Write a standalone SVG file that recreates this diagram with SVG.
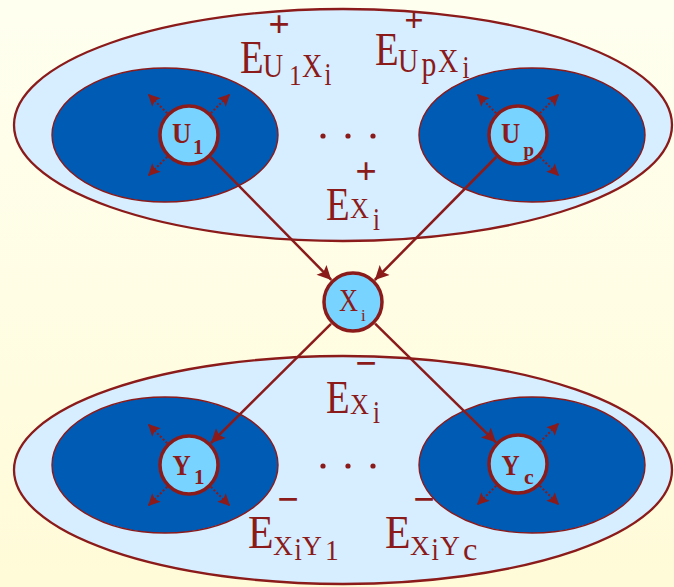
<svg xmlns="http://www.w3.org/2000/svg" width="674" height="587" viewBox="0 0 674 587">
  <defs>
    <linearGradient id="bg" x1="0" y1="0" x2="0" y2="1">
      <stop offset="0" stop-color="#FFFFF0"/>
      <stop offset="1" stop-color="#FFFBD8"/>
    </linearGradient>
    <marker id="ah" viewBox="0 0 10 10" refX="10" refY="5" markerWidth="18" markerHeight="14" markerUnits="userSpaceOnUse" orient="auto">
      <path d="M0,0 L10,5 L0,10 L2,5 z" fill="#8B1A1A"/>
    </marker>
    <marker id="sh" viewBox="0 0 10 10" refX="10" refY="5" markerWidth="13" markerHeight="12" markerUnits="userSpaceOnUse" orient="auto">
      <path d="M0,0 L10,5 L0,10 L2,5 z" fill="#8B1A1A"/>
    </marker>
    <style>
      .outer { fill: #D6EEFF; stroke: #8B1A1A; stroke-width: 2.3; }
      .inner { fill: #005BB5; stroke: #8B1A1A; stroke-width: 1.4; }
      .node { fill: #78D4FF; stroke: #8B1A1A; stroke-width: 3.5; }
      .conn { stroke: #8B1A1A; stroke-width: 2.5; fill: none; marker-end: url(#ah); }
      .dot { stroke: #8B1A1A; stroke-width: 2; stroke-dasharray: 2 2; fill: none; marker-end: url(#sh); }
      text { font-family: "Liberation Serif", "Times New Roman", serif; fill: #8B1A1A; }
      .b { font-weight: bold; }
      .sign { font-weight: bold; font-size: 38px; text-anchor: middle; }
      .ellip { fill: #8B1A1A; }
    </style>
  </defs>

  <rect x="0" y="0" width="674" height="587" fill="url(#bg)"/>

  <!-- top cluster -->
  <g id="parents-set">
    <ellipse class="outer" cx="343" cy="125" rx="329" ry="116"/>
    <ellipse class="inner" cx="165" cy="135" rx="113" ry="67"/>
    <ellipse class="inner" cx="532" cy="135" rx="113" ry="67"/>
    <circle class="ellip" cx="323" cy="136" r="2.6"/>
    <circle class="ellip" cx="348" cy="136" r="2.6"/>
    <circle class="ellip" cx="373" cy="136" r="2.6"/>
  </g>

  <!-- bottom cluster -->
  <g id="children-set">
    <ellipse class="outer" cx="343" cy="470" rx="329" ry="114"/>
    <ellipse class="inner" cx="165" cy="465" rx="113" ry="68"/>
    <ellipse class="inner" cx="532" cy="465" rx="113" ry="68"/>
    <circle class="ellip" cx="323" cy="466" r="2.6"/>
    <circle class="ellip" cx="348" cy="466" r="2.6"/>
    <circle class="ellip" cx="373" cy="466" r="2.6"/>
  </g>

  <!-- labels -->
  <g id="label-EU1Xi">
    <text class="sign" x="279" y="37">+</text>
    <text font-size="38" transform="translate(240,73) scale(1.02,1.2)">E</text>
    <text font-size="28" transform="translate(263,77) scale(1,1.2)">U</text>
    <text font-size="25" transform="translate(289,85) scale(1,1.2)">1</text>
    <text font-size="28" transform="translate(302,77) scale(1,1.2)">X</text>
    <text font-size="25" transform="translate(324.5,85) scale(1,1.25)">i</text>
  </g>
  <g id="label-EUpXi">
    <text class="sign" x="414" y="31" style="font-size:34px">+</text>
    <text font-size="38" transform="translate(375,65) scale(1.02,1.2)">E</text>
    <text font-size="28" transform="translate(398,72) scale(1,1.2)">U</text>
    <text font-size="27" transform="translate(421.5,75.5) scale(1.1,1.3)">p</text>
    <text font-size="28" transform="translate(438,72) scale(1,1.2)">X</text>
    <text font-size="25" transform="translate(462.5,78) scale(1,1.25)">i</text>
  </g>
  <g id="label-EXi-plus">
    <text class="sign" x="366" y="184">+</text>
    <text font-size="38" transform="translate(326,220) scale(1.02,1.2)">E</text>
    <text font-size="25" transform="translate(350,218) scale(1.05,1.15)">X</text>
    <text font-size="25" transform="translate(373,230) scale(1,1.3)">i</text>
  </g>
  <g id="label-EXi-minus">
    <text class="sign" x="366" y="376">−</text>
    <text font-size="38" transform="translate(326,413) scale(1.02,1.2)">E</text>
    <text font-size="25" transform="translate(350,414) scale(1.05,1.15)">X</text>
    <text font-size="25" transform="translate(373,423) scale(1,1.3)">i</text>
  </g>
  <g id="label-EXiY1">
    <text class="sign" x="288" y="512">−</text>
    <text font-size="38" transform="translate(248,548) scale(1.1,1.2)">E</text>
    <text font-size="24" transform="translate(273,555) scale(1.15,1.13)">X</text>
    <text font-size="24" transform="translate(294.5,560) scale(1.1,1.33)">i</text>
    <text font-size="24" transform="translate(302,555) scale(1.15,1.13)">Y</text>
    <text font-size="25" transform="translate(325,560) scale(1.1,1.2)">1</text>
  </g>
  <g id="label-EXiYc">
    <text class="sign" x="424" y="512">−</text>
    <text font-size="38" transform="translate(385,548) scale(1.1,1.2)">E</text>
    <text font-size="24" transform="translate(410,555) scale(1.15,1.13)">X</text>
    <text font-size="24" transform="translate(431.5,560) scale(1.1,1.33)">i</text>
    <text font-size="24" transform="translate(440,555) scale(1.15,1.13)">Y</text>
    <text font-size="27" transform="translate(463,560) scale(1.2,1.2)">c</text>
  </g>

  <!-- connectors -->
  <g id="connectors">
    <line class="conn" x1="210.7" y1="157.1" x2="331.3" y2="279.9"/>
    <line class="conn" x1="496.2" y1="157" x2="374.8" y2="280"/>
    <line class="conn" x1="331" y1="323.9" x2="211" y2="443"/>
    <line class="conn" x1="375.1" y1="323.7" x2="495.9" y2="442.3"/>

    <line class="dot" x1="167.1" y1="113.1" x2="148" y2="94"/>
    <line class="dot" x1="210.9" y1="113.1" x2="230" y2="94"/>
    <line class="dot" x1="167.1" y1="156.9" x2="148" y2="176"/>

    <line class="dot" x1="496.1" y1="113.1" x2="477" y2="94"/>
    <line class="dot" x1="539.9" y1="113.1" x2="559" y2="94"/>
    <line class="dot" x1="539.9" y1="156.9" x2="559" y2="176"/>

    <line class="dot" x1="167.1" y1="443.1" x2="148" y2="424"/>
    <line class="dot" x1="167.1" y1="486.9" x2="148" y2="506"/>
    <line class="dot" x1="210.9" y1="486.9" x2="230" y2="506"/>

    <line class="dot" x1="539.9" y1="442.1" x2="559" y2="423"/>
    <line class="dot" x1="496.1" y1="485.9" x2="477" y2="505"/>
    <line class="dot" x1="539.9" y1="485.9" x2="559" y2="505"/>
  </g>

  <!-- nodes -->
  <g id="node-U1">
    <circle class="node" cx="189" cy="135" r="29"/>
    <text class="b" font-size="28" transform="translate(172,143) scale(0.95,1.05)">U</text>
    <text class="b" font-size="21" x="193" y="154">1</text>
  </g>
  <g id="node-Up">
    <circle class="node" cx="518" cy="135" r="29"/>
    <text class="b" font-size="28" transform="translate(501,143) scale(0.95,1.05)">U</text>
    <text class="b" font-size="19" x="523.5" y="156">p</text>
  </g>
  <g id="node-Xi">
    <circle class="node" cx="353" cy="302" r="29"/>
    <text font-size="31" transform="translate(339,311) scale(0.85,1)">X</text>
    <text font-size="17" x="361" y="321">i</text>
  </g>
  <g id="node-Y1">
    <circle class="node" cx="189" cy="465" r="29"/>
    <text class="b" font-size="28" transform="translate(172.5,475) scale(0.9,1.07)">Y</text>
    <text class="b" font-size="21" x="194" y="484">1</text>
  </g>
  <g id="node-Yc">
    <circle class="node" cx="518" cy="464" r="29"/>
    <text class="b" font-size="28" transform="translate(501.5,475) scale(0.9,1.07)">Y</text>
    <text class="b" font-size="22" x="524" y="484">c</text>
  </g>
</svg>
